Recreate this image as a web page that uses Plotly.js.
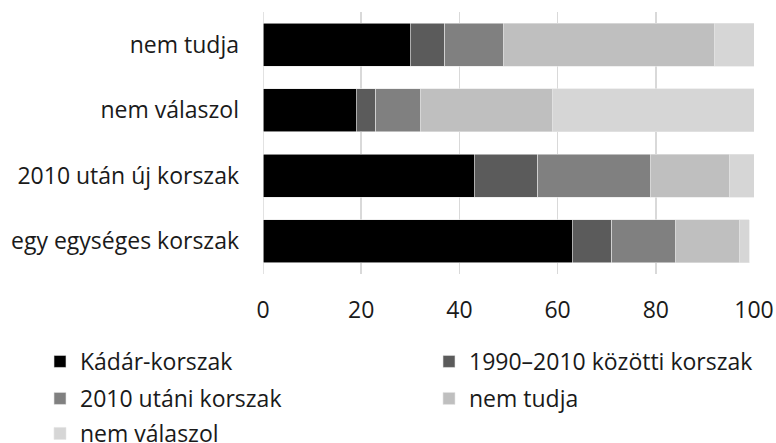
<!DOCTYPE html>
<html>
<head>
<meta charset="utf-8">
<script src="https://cdn.plot.ly/plotly-3.0.1.min.js"></script>
<style>html,body{margin:0;padding:0;background:#fff;}#chart{width:776px;height:443px;}</style>
</head>
<body>
<div id="chart"></div>
<script>
const categories = ["nem tudja", "nem válaszol", "2010 után új korszak", "egy egységes korszak"];
const seriesNames = ["Kádár-korszak", "1990–2010 közötti korszak", "2010 utáni korszak", "nem tudja", "nem válaszol"];
const kadar = [30, 19, 43, 63];
const between = [7, 4, 13, 8];
const after2010 = [12, 9, 23, 13];
const dontKnow = [43, 27, 16, 13];
const noAnswer = [8, 41, 5, 2];
const colors = ["#000000", "#5b5b5b", "#808080", "#bfbfbf", "#d6d6d6"];

const values = [kadar, between, after2010, dontKnow, noAnswer];
const legendIds = ["legend", "legend2", "legend3", "legend4", "legend5"];
const traces = values.map((v, i) => ({
  type: "bar",
  orientation: "h",
  name: seriesNames[i],
  legend: legendIds[i],
  y: categories,
  x: v,
  marker: {color: colors[i], line: {color: "#e6e6e6", width: 0.6}},
  hoverinfo: "x+name"
}));

const font = {family: "Open Sans, Noto Sans, sans-serif", size: 23, color: "#1a1a1a"};
// legend positions in container pixels: [x of entry start, y center]
const W = 776, H = 443;
const legPos = [[40, 361.5], [429, 361.5], [40, 398.5], [429, 398.5], [40, 433.5]];
const layout = {
  width: W, height: H,
  margin: {l: 263, r: 22, t: 12, b: 169},
  barmode: "stack",
  bargap: 0.34,
  paper_bgcolor: "#fff", plot_bgcolor: "#fff",
  font: font,
  xaxis: {
    range: [0, 100], tickvals: [0, 20, 40, 60, 80, 100],
    showgrid: true, gridcolor: "#d9d9d9", gridwidth: 1.5,
    zeroline: false, showline: false, ticks: "",
    ticklabelstandoff: 20, tickfont: font
  },
  yaxis: {
    autorange: "reversed", type: "category",
    showgrid: false, zeroline: false, showline: false, ticks: "",
    ticklabelstandoff: 23, tickfont: font
  },
  shapes: [{type: "line", xref: "x", yref: "paper", x0: 0, x1: 0, y0: 0, y1: 1, line: {color: "#d9d9d9", width: 1.5}, layer: "below"}],
  showlegend: true
};
legendIds.forEach((id, i) => {
  layout[id] = {
    orientation: "h", xref: "container", yref: "container",
    x: legPos[i][0] / W, y: 1 - legPos[i][1] / H,
    xanchor: "left", yanchor: "middle",
    font: font, itemwidth: 30, bgcolor: "rgba(0,0,0,0)", borderwidth: 0
  };
});
Plotly.newPlot("chart", traces, layout, {displayModeBar: false, staticPlot: true});
</script>
</body>
</html>
